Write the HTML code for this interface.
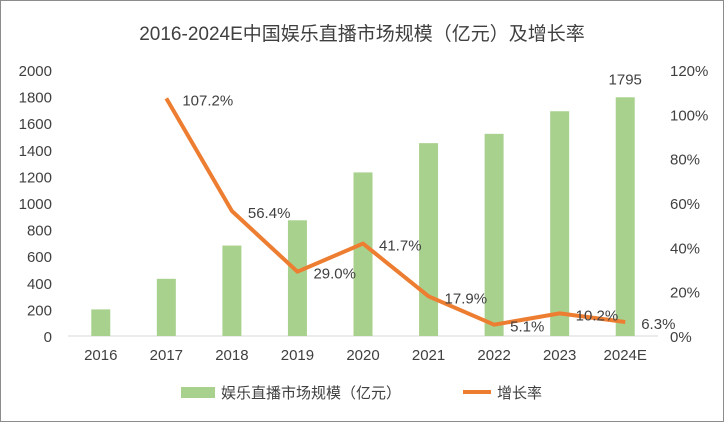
<!DOCTYPE html>
<html><head><meta charset="utf-8"><style>
body{margin:0;background:#fff;}
svg{display:block;font-family:"Liberation Sans","Noto Sans CJK SC",sans-serif;}
</style></head><body>
<svg id="chart" width="724" height="422" viewBox="0 0 724 422">
<rect x="0.5" y="0.5" width="723" height="421" fill="#fff" stroke="#8c8c8c"/>
<text x="362" y="40" text-anchor="middle" font-size="19" fill="#404040">2016-2024E中国娱乐直播市场规模（亿元）及增长率</text>
<g id="axes"></g><g id="bars"></g><g id="line"></g><g id="labels"></g>
<g>
<rect x="181" y="387" width="34" height="11" fill="#a9d18e"/>
<text x="221" y="398" font-size="15" fill="#404040">娱乐直播市场规模（亿元）</text>
<line x1="463" y1="392" x2="491" y2="392" stroke="#ed7d31" stroke-width="4"/>
<text x="497" y="398" font-size="15" fill="#404040">增长率</text>
</g>
</svg>
<script>
const categories=["2016","2017","2018","2019","2020","2021","2022","2023","2024E"];
const marketSize=[200,430,680,870,1230,1450,1520,1690,1795];
const growth=[null,107.2,56.4,29.0,41.7,17.9,5.1,10.2,6.3];
const leftTicks=[0,200,400,600,800,1000,1200,1400,1600,1800,2000];
const rightTicks=[0,20,40,60,80,100,120];
const NS="http://www.w3.org/2000/svg";
const x0=68,x1=658,yb=336,yt=70;
const band=(x1-x0)/categories.length;
const xc=i=>x0+band*(i+0.5);
const yL=v=>yb-(v/2000)*(yb-yt);
const yR=v=>yb-(v/120)*(yb-yt);
function mk(t,a,p){const e=document.createElementNS(NS,t);for(const k in a)e.setAttribute(k,a[k]);p.appendChild(e);return e;}
const axes=document.getElementById('axes');
mk('line',{x1:x0,x2:x1,y1:yb,y2:yb,stroke:'#d9d9d9'},axes);
leftTicks.forEach(v=>{const t=mk('text',{x:52,y:yL(v)+6,'text-anchor':'end','font-size':15,fill:'#404040'},axes);t.textContent=v;

});
rightTicks.forEach(v=>{const t=mk('text',{x:670,y:yR(v)+6,'font-size':15,fill:'#404040'},axes);t.textContent=v+'%';

});
categories.forEach((c,i)=>{const t=mk('text',{x:xc(i),y:360,'text-anchor':'middle','font-size':15,fill:'#404040'},axes);t.textContent=c;

});
const bars=document.getElementById('bars');
marketSize.forEach((v,i)=>{const r=mk('rect',{x:xc(i)-9.5,y:yL(v),width:19,height:yb-yL(v),fill:'#a9d18e'},bars);

});
const lt=mk('text',{x:xc(8),y:yL(marketSize[8])-13,'text-anchor':'middle','font-size':15,fill:'#404040'},document.getElementById('labels'));
lt.textContent=marketSize[8];


let pts=[];growth.forEach((g,i)=>{if(g!==null)pts.push(xc(i)+','+yR(g));});
const pl=mk('polyline',{points:pts.join(' '),fill:'none',stroke:'#ed7d31','stroke-width':4,'stroke-linejoin':'round'},document.getElementById('line'));


growth.forEach((g,i)=>{if(g===null)return;const t=mk('text',{x:xc(i)+16,y:yR(g)+7,'font-size':15,fill:'#404040'},document.getElementById('labels'));t.textContent=g.toFixed(1)+'%';

});
</script>
</body></html>
